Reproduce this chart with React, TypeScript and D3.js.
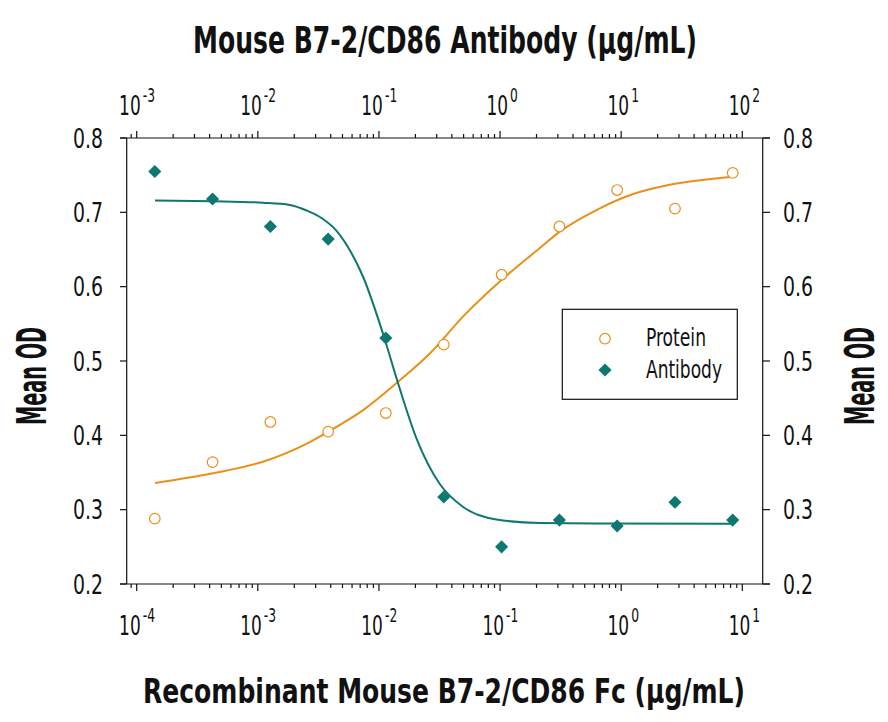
import React from "react";
import * as d3 from "d3";

// ---- Data ----
// Protein: concentrations on the bottom axis (µg/mL)
const proteinConc = [0.000141, 0.000423, 0.00127, 0.00381, 0.0114, 0.0343, 0.103, 0.309, 0.926, 2.78, 8.33];
const proteinOD = [0.288, 0.364, 0.418, 0.405, 0.43, 0.522, 0.616, 0.681, 0.73, 0.705, 0.753];
// Antibody: concentrations on the top axis (µg/mL)
const antibodyConc = [0.00141, 0.00423, 0.0127, 0.0381, 0.114, 0.343, 1.03, 3.09, 9.26, 27.8, 83.3];
const antibodyOD = [0.755, 0.718, 0.681, 0.664, 0.531, 0.317, 0.25, 0.286, 0.278, 0.31, 0.286];

// Fitted curves
const proteinCurveConc = [0.0001416, 0.000427, 0.0011, 0.00269, 0.00475, 0.00741, 0.01439, 0.0263, 0.0496, 0.1028, 0.213, 0.311, 0.624, 1.175, 2.51, 8.36];
const proteinCurveOD = [0.336, 0.349, 0.3645, 0.391, 0.414, 0.434, 0.472, 0.51, 0.56, 0.609, 0.652, 0.674, 0.703, 0.723, 0.737, 0.748];
const antibodyCurveConc = [0.001416, 0.00427, 0.011, 0.0184, 0.0253, 0.0338, 0.0447, 0.0575, 0.0741, 0.1084, 0.1439, 0.204, 0.318, 0.496, 0.933, 2.13, 6.65, 83.6];
const antibodyCurveOD = [0.716, 0.715, 0.713, 0.71, 0.7025, 0.692, 0.675, 0.649, 0.613, 0.536, 0.47, 0.396, 0.3345, 0.3036, 0.2867, 0.282, 0.2814, 0.281];

const yTicks = [0.2, 0.3, 0.4, 0.5, 0.6, 0.7, 0.8];
const seriesNames = ["Protein", "Antibody"];
const topTitle = "Mouse B7-2/CD86 Antibody (\u03BCg/mL)";
const bottomTitle = "Recombinant Mouse B7-2/CD86 Fc (\u03BCg/mL)";
const yTitle = "Mean OD";

const ORANGE = "#E8901A";
const TEAL = "#0E776F";
const FONT = "'Liberation Sans Narrow', 'DejaVu Sans Condensed', 'Roboto', sans-serif";

export default function App() {
  const W = 888, H = 722;
  const xL = 126.7, xR = 762.7, yT = 138, yB = 584;

  const xBottom0 = d3.scaleLog().domain([1e-4, 10]).range([136.7, 742.3]);
  const xBottom = d3.scaleLog().domain([xBottom0.invert(xL), xBottom0.invert(xR)]).range([xL, xR]);
  const xTop0 = d3.scaleLog().domain([1e-3, 100]).range([136.7, 742.3]);
  const xTop = d3.scaleLog().domain([xTop0.invert(xL), xTop0.invert(xR)]).range([xL, xR]);
  const y = d3.scaleLinear().domain([0.2, 0.8]).range([yB, yT]);

  const isMajor = (v: number) => Math.abs(Math.log10(v) - Math.round(Math.log10(v))) < 1e-9;

  const bottomTicks = xBottom.ticks();
  const topTicks = xTop.ticks();

  const line = d3.line<[number, number]>().x(d => d[0]).y(d => d[1]).curve(d3.curveMonotoneX);
  const protPath = line(proteinCurveConc.map((c, i) => [xBottom(c), y(proteinCurveOD[i])] as [number, number]));
  const abPath = line(antibodyCurveConc.map((c, i) => [xTop(c), y(antibodyCurveOD[i])] as [number, number]));

  const diamond = d3.symbol().type(d3.symbolSquare).size(86)();

  const expLabel = (v: number, x: number, yy: number, key: string) => {
    const e = Math.round(Math.log10(v));
    const split = e < 0 ? x + 4 : x + 8;
    return (
      <g key={key}>
        <text transform={`translate(${split},${yy}) scale(0.7,1)`} textAnchor="end" fontFamily={FONT} fontSize={27} fill="#111">10</text>
        <text transform={`translate(${split + 2},${yy - 13}) scale(0.72,1)`} textAnchor="start" fontFamily={FONT} fontSize={19} fill="#111">{String(e)}</text>
      </g>
    );
  };

  return (
    <svg width={W} height={H} style={{ position: "absolute", left: 0, top: 0, background: "#fff" }}>
      <rect x={0} y={0} width={W} height={H} fill="#fff" />
      {/* titles */}
      <text x={445} y={53} textAnchor="middle" fontFamily={FONT} fontWeight="bold" fontSize={38} fill="#111"
        textLength={504} lengthAdjust="spacingAndGlyphs">{topTitle}</text>
      <text x={444} y={703} textAnchor="middle" fontFamily={FONT} fontWeight="bold" fontSize={34} fill="#111"
        textLength={602} lengthAdjust="spacingAndGlyphs">{bottomTitle}</text>
      <text transform={`translate(46,376) rotate(-90)`} textAnchor="middle" fontFamily={FONT} fontWeight="bold"
        fontSize={40} fill="#111" textLength={98} lengthAdjust="spacingAndGlyphs">{yTitle}</text>
      <text transform={`translate(874,376) rotate(-90)`} textAnchor="middle" fontFamily={FONT} fontWeight="bold"
        fontSize={40} fill="#111" textLength={98} lengthAdjust="spacingAndGlyphs">{yTitle}</text>

      {/* frame */}
      <g stroke="#111" strokeWidth={1.2} fill="none">
        <line x1={120} x2={770} y1={yT} y2={yT} />
        <line x1={120} x2={770} y1={yB} y2={yB} />
        <line x1={xL} x2={xL} y1={yT} y2={yB} />
        <line x1={xR} x2={xR} y1={yT} y2={yB} />
        {yTicks.map(t => (
          <g key={"yt" + t}>
            <line x1={120} x2={xL} y1={y(t)} y2={y(t)} />
            <line x1={xR} x2={770} y1={y(t)} y2={y(t)} />
          </g>
        ))}
        {bottomTicks.map((t, i) => (
          <line key={"bt" + i} x1={xBottom(t)} x2={xBottom(t)} y1={yB} y2={yB + (isMajor(t) ? 7 : 4)} />
        ))}
        {topTicks.map((t, i) => (
          <line key={"tt" + i} x1={xTop(t)} x2={xTop(t)} y1={yT} y2={yT - (isMajor(t) ? 7 : 4)} />
        ))}
      </g>

      {/* y tick labels */}
      {yTicks.map(t => (
        <text key={"yl" + t} x={103} y={y(t)} dy="0.36em" textAnchor="end" fontFamily={FONT} fontSize={27} fill="#111"
          textLength={30} lengthAdjust="spacingAndGlyphs">
          {t.toFixed(1)}
        </text>
      ))}
      {yTicks.map(t => (
        <text key={"yr" + t} x={783} y={y(t)} dy="0.36em" textAnchor="start" fontFamily={FONT} fontSize={27} fill="#111"
          textLength={30} lengthAdjust="spacingAndGlyphs">
          {t.toFixed(1)}
        </text>
      ))}
      {bottomTicks.filter(isMajor).map((t, i) => expLabel(t, xBottom(t), 635, "bl" + i))}
      {topTicks.filter(isMajor).map((t, i) => expLabel(t, xTop(t), 115, "tl" + i))}

      {/* curves */}
      <path d={protPath || ""} fill="none" stroke={ORANGE} strokeWidth={2} />
      <path d={abPath || ""} fill="none" stroke={TEAL} strokeWidth={2} />

      {/* points */}
      {proteinConc.map((c, i) => (
        <circle key={"p" + i} cx={xBottom(c)} cy={y(proteinOD[i])} r={5.3} fill="#fff" stroke={ORANGE} strokeWidth={1.2} />
      ))}
      {antibodyConc.map((c, i) => (
        <path key={"a" + i} d={diamond || ""} transform={`translate(${xTop(c)},${y(antibodyOD[i])}) rotate(45)`} fill={TEAL} />
      ))}

      {/* legend */}
      <rect x={562.3} y={309.3} width={175} height={90} fill="#fff" stroke="#111" strokeWidth={1.2} />
      <circle cx={605} cy={338.7} r={5.3} fill="#fff" stroke={ORANGE} strokeWidth={1.2} />
      <path d={diamond || ""} transform={`translate(605,370) rotate(45)`} fill={TEAL} />
      <text x={646} y={346} fontFamily={FONT} fontSize={24} fill="#111" textLength={60} lengthAdjust="spacingAndGlyphs">{seriesNames[0]}</text>
      <text x={646} y={378} fontFamily={FONT} fontSize={24} fill="#111" textLength={76} lengthAdjust="spacingAndGlyphs">{seriesNames[1]}</text>
    </svg>
  );
}
